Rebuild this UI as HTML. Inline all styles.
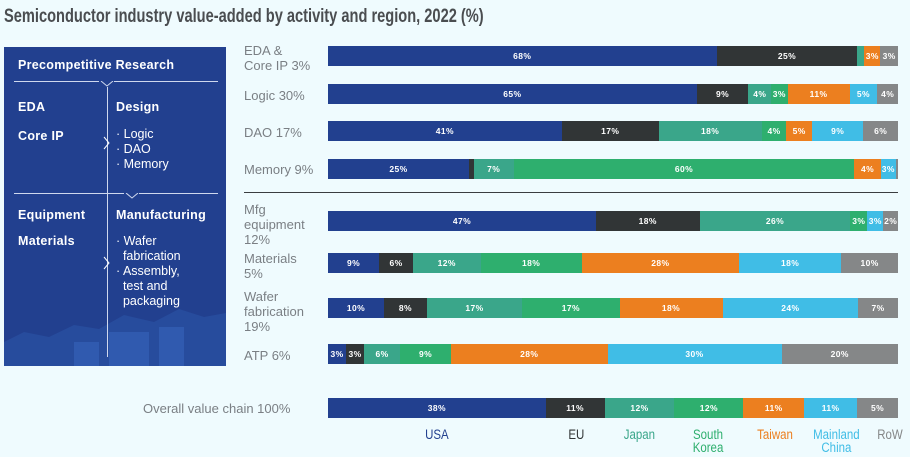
<!DOCTYPE html>
<html><head><style>
*{margin:0;padding:0;box-sizing:border-box}
body{width:910px;height:457px;background:#effbfe;font-family:"Liberation Sans",sans-serif;position:relative;overflow:hidden}
.a{position:absolute}
.title{left:4px;top:6px;font-weight:bold;font-size:19px;color:#4a4d50;transform:scaleX(0.77);transform-origin:0 0;white-space:nowrap}
.panel{left:4px;top:47px;width:222px;height:319px;background:#22408f;color:#fff;overflow:hidden}
.panel .b{font-weight:bold;font-size:12.5px;position:absolute;letter-spacing:0.3px}
.panel .n{font-size:12.5px;position:absolute;line-height:15px}
.hl{position:absolute;height:1px;background:#cfd8ee}
.vl{position:absolute;width:1px;background:#cfd8ee}
.lab{position:absolute;left:244px;font-size:13px;color:#7a7f84;line-height:15px}
.bar{position:absolute;left:328px;width:570px;height:20px;display:flex}
.bar div{height:100%;color:#fff;font-weight:bold;font-size:8.5px;letter-spacing:0.4px;display:flex;align-items:center;justify-content:center;white-space:nowrap;overflow:visible}
.u{background:#22408f}.e{background:#313536}.j{background:#3aa68a}.k{background:#2eaf6e}.t{background:#ec7f1f}.c{background:#40bde6}.r{background:#858788}
.leg{position:absolute;top:428px;font-size:13.5px;text-align:center;line-height:13px}
.leg span{display:inline-block;transform:scaleX(0.85)}
</style></head><body>
<div class="a title">Semiconductor industry value-added by activity and region, 2022 (%)</div>
<div class="a panel">
 <svg class="a" style="left:0;top:240px" width="222" height="80"><g fill="#2c55aa" opacity="0.55"><path d="M0 55 L20 45 L45 50 L70 38 L95 42 L120 28 L150 35 L175 22 L200 30 L222 26 L222 80 L0 80Z"/></g><g fill="#3a68c2" opacity="0.5"><rect x="105" y="45" width="40" height="35"/><rect x="70" y="55" width="25" height="25"/><rect x="155" y="40" width="25" height="40"/></g></svg>
 <div class="b" style="left:14px;top:11px">Precompetitive Research</div>
 <div class="hl" style="left:10px;top:34px;width:85px"></div>
 <div class="hl" style="left:110px;top:34px;width:104px"></div>
 <svg class="a" style="left:96px;top:34px" width="14" height="6"><path d="M1 0 L7 5 L13 0" stroke="#cfd8ee" fill="none"/></svg>
 <div class="vl" style="left:103px;top:40px;height:270px"></div>
 <div class="b" style="left:14px;top:53px">EDA</div>
 <div class="b" style="left:112px;top:53px">Design</div>
 <div class="b" style="left:14px;top:82px">Core IP</div>
 <div class="n" style="left:112px;top:80px">· Logic<br>· DAO<br>· Memory</div>
 <svg class="a" style="left:99px;top:89px" width="8" height="14"><path d="M1 1 L6 7 L1 13" stroke="#fff" fill="none"/></svg>
 <div class="hl" style="left:10px;top:146px;width:110px"></div>
 <div class="hl" style="left:135px;top:146px;width:79px"></div>
 <svg class="a" style="left:121px;top:146px" width="14" height="6"><path d="M1 0 L7 5 L13 0" stroke="#cfd8ee" fill="none"/></svg>
 <div class="b" style="left:14px;top:161px">Equipment</div>
 <div class="b" style="left:112px;top:161px">Manufacturing</div>
 <div class="b" style="left:14px;top:187px">Materials</div>
 <div class="n" style="left:112px;top:187px">· Wafer<br>&nbsp;&nbsp;fabrication<br>· Assembly,<br>&nbsp;&nbsp;test and<br>&nbsp;&nbsp;packaging</div>
 <svg class="a" style="left:99px;top:209px" width="8" height="14"><path d="M1 1 L6 7 L1 13" stroke="#fff" fill="none"/></svg>
</div>

<div class="lab" style="top:43px">EDA &amp;<br>Core IP 3%</div>
<div class="lab" style="top:88px">Logic 30%</div>
<div class="lab" style="top:125px">DAO 17%</div>
<div class="lab" style="top:162px">Memory 9%</div>
<div class="a" style="left:244px;top:192px;width:654px;height:1px;background:#3a3d40"></div>
<div class="lab" style="top:202px">Mfg<br>equipment<br>12%</div>
<div class="lab" style="top:251px">Materials<br>5%</div>
<div class="lab" style="top:289px">Wafer<br>fabrication<br>19%</div>
<div class="lab" style="top:348px">ATP 6%</div>
<div class="lab" style="top:401px;left:143px">Overall value chain 100%</div>

<div class="bar" style="top:46px"><div class="u" style="flex:1034">68%</div><div class="e" style="flex:375">25%</div><div class="j" style="flex:18"></div><div class="t" style="flex:43">3%</div><div class="r" style="flex:47">3%</div></div>
<div class="bar" style="top:84px"><div class="u" style="flex:981">65%</div><div class="e" style="flex:138">9%</div><div class="j" style="flex:60">4%</div><div class="k" style="flex:44">3%</div><div class="t" style="flex:165">11%</div><div class="c" style="flex:74">5%</div><div class="r" style="flex:55">4%</div></div>
<div class="bar" style="top:121px"><div class="u" style="flex:622">41%</div><div class="e" style="flex:258">17%</div><div class="j" style="flex:274">18%</div><div class="k" style="flex:66">4%</div><div class="t" style="flex:68">5%</div><div class="c" style="flex:137">9%</div><div class="r" style="flex:92">6%</div></div>
<div class="bar" style="top:159px"><div class="u" style="flex:375">25%</div><div class="e" style="flex:13"></div><div class="j" style="flex:106">7%</div><div class="k" style="flex:907">60%</div><div class="t" style="flex:70">4%</div><div class="c" style="flex:40">3%</div><div class="r" style="flex:6"></div></div>
<div class="bar" style="top:211px"><div class="u" style="flex:713">47%</div><div class="e" style="flex:276">18%</div><div class="j" style="flex:401">26%</div><div class="k" style="flex:45">3%</div><div class="c" style="flex:43">3%</div><div class="r" style="flex:39">2%</div></div>
<div class="bar" style="top:253px"><div class="u" style="flex:136">9%</div><div class="e" style="flex:90">6%</div><div class="j" style="flex:180">12%</div><div class="k" style="flex:269">18%</div><div class="t" style="flex:419">28%</div><div class="c" style="flex:272">18%</div><div class="r" style="flex:151">10%</div></div>
<div class="bar" style="top:298px"><div class="u" style="flex:149">10%</div><div class="e" style="flex:114">8%</div><div class="j" style="flex:254">17%</div><div class="k" style="flex:259">17%</div><div class="t" style="flex:274">18%</div><div class="c" style="flex:361">24%</div><div class="r" style="flex:106">7%</div></div>
<div class="bar" style="top:344px"><div class="u" style="flex:48">3%</div><div class="e" style="flex:48">3%</div><div class="j" style="flex:96">6%</div><div class="k" style="flex:135">9%</div><div class="t" style="flex:417">28%</div><div class="c" style="flex:463">30%</div><div class="r" style="flex:310">20%</div></div>
<div class="bar" style="top:398px"><div class="u" style="flex:218">38%</div><div class="e" style="flex:59">11%</div><div class="j" style="flex:70">12%</div><div class="k" style="flex:69">12%</div><div class="t" style="flex:61">11%</div><div class="c" style="flex:53">11%</div><div class="r" style="flex:41">5%</div></div>

<div class="leg" style="left:407px;width:60px;color:#22408f"><span>USA</span></div>
<div class="leg" style="left:556px;width:40px;color:#313536"><span>EU</span></div>
<div class="leg" style="left:614px;width:50px;color:#3aa68a"><span>Japan</span></div>
<div class="leg" style="left:683px;width:50px;color:#2eaf6e"><span>South<br>Korea</span></div>
<div class="leg" style="left:745px;width:60px;color:#ec7f1f"><span>Taiwan</span></div>
<div class="leg" style="left:803px;width:66px;color:#40bde6"><span>Mainland<br>China</span></div>
<div class="leg" style="left:870px;width:40px;color:#858788"><span>RoW</span></div>
</body></html>
